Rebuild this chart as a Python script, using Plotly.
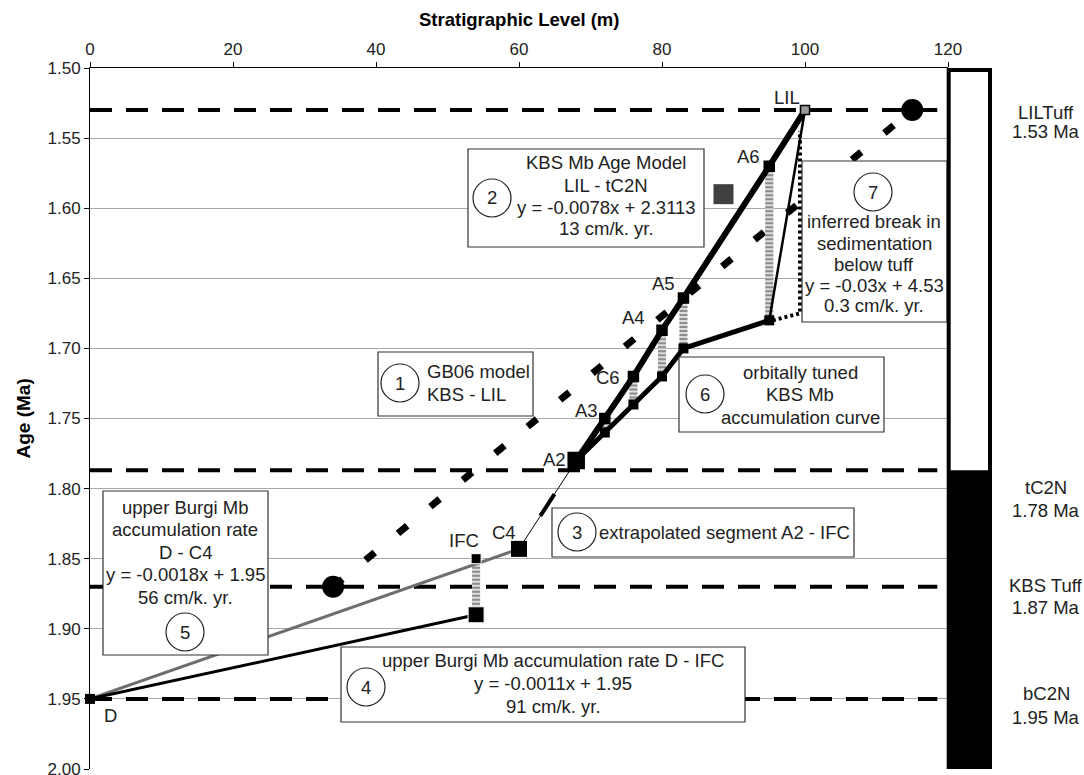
import plotly.graph_objects as go

# ---------------- data ----------------
ref_ages = [1.53, 1.787, 1.87, 1.95]
ref_names = ["LILTuff", "tC2N", "KBS Tuff", "bC2N"]
ref_age_labels = ["1.53 Ma", "1.78 Ma", "1.87 Ma", "1.95 Ma"]

upper_x = [68, 72, 76, 80, 83, 95, 100]
upper_y = [1.78, 1.75, 1.72, 1.687, 1.664, 1.57, 1.53]
upper_names = ["A2", "A3", "C6", "A4", "A5", "A6", "LIL"]

lower_x = [68, 72, 76, 80, 83, 95]
lower_y = [1.78, 1.76, 1.74, 1.72, 1.70, 1.68]

break_x = [95, 100]
break_y = [1.68, 1.53]
break_dot_x = [95.5, 99.3, 99.3]
break_dot_y = [1.68, 1.675, 1.545]

gb06_x = [34, 115]
gb06_y = [1.87, 1.53]

burgi_c4_x = [0, 60]
burgi_c4_y = [1.95, 1.843]
burgi_ifc_x = [0, 54]
burgi_ifc_y = [1.95, 1.89]
extrap_x = [68, 60]
extrap_y = [1.78, 1.843]

ifc_x = [54, 54]
ifc_y = [1.85, 1.89]
c4_x = [60]
c4_y = [1.843]
d_x = [0]
d_y = [1.95]
misc_x = [88.6]
misc_y = [1.59]

conn_x = [95, 83, 80, 76, 72, 54]
conn_top = [1.57, 1.664, 1.687, 1.72, 1.75, 1.85]
conn_bot = [1.68, 1.70, 1.72, 1.74, 1.76, 1.89]

chron_boundary = 1.787

# ---------------- layout constants ----------------
W, H = 1084, 775
ML, MR, MT, MB = 90, 136, 68, 6
PW, PH = W - ML - MR, H - MT - MB
FONT = "Liberation Sans, Arial, sans-serif"
TXT = "#222222"
FS = 18.5


def px(x):
    return (x - ML) / PW


def py(y):
    return 1 - (y - MT) / PH


fig = go.Figure()

# reference horizontal dashed lines
for a in ref_ages:
    fig.add_trace(go.Scatter(x=[0, 118.5], y=[a, a], mode="lines",
                             line=dict(color="black", width=4, dash="22px,14px"),
                             hoverinfo="skip"))

# GB06 model dashed line
fig.add_trace(go.Scatter(x=gb06_x, y=gb06_y, mode="lines+markers",
                         line=dict(color="black", width=7, dash="12px,30px"),
                         marker=dict(symbol="circle", size=22, color="black", opacity=1)))

# checkered connectors
for xc, yt, yb in zip(conn_x, conn_top, conn_bot):
    fig.add_trace(go.Scatter(x=[xc, xc], y=[yt, yb], mode="lines",
                             line=dict(color="#dcdcdc", width=8)))
    fig.add_trace(go.Scatter(x=[xc, xc], y=[yt, yb], mode="lines",
                             line=dict(color="#8c8c8c", width=8, dash="2px,2px")))

# Burgi lines
fig.add_trace(go.Scatter(x=burgi_c4_x, y=burgi_c4_y, mode="lines",
                         line=dict(color="#6e6e6e", width=3)))
fig.add_trace(go.Scatter(x=burgi_ifc_x, y=burgi_ifc_y, mode="lines",
                         line=dict(color="black", width=3)))
# extrapolated segment
fig.add_trace(go.Scatter(x=extrap_x, y=extrap_y, mode="lines",
                         line=dict(color="black", width=1)))
fig.add_trace(go.Scatter(x=extrap_x, y=extrap_y, mode="lines",
                         line=dict(color="black", width=4, dash="0px,40px,26px,300px")))

# lower and upper KBS curves
fig.add_trace(go.Scatter(x=lower_x, y=lower_y, mode="lines+markers",
                         line=dict(color="black", width=5),
                         marker=dict(symbol="square", size=10, color="black", opacity=1)))
fig.add_trace(go.Scatter(x=break_x, y=break_y, mode="lines",
                         line=dict(color="black", width=2.5)))
fig.add_trace(go.Scatter(x=break_dot_x, y=break_dot_y, mode="lines",
                         line=dict(color="black", width=4, dash="3px,3px")))
up_sizes = [16, 10, 10, 10, 10, 10, 9]
up_colors = ["black"] * 6 + ["#9a9a9a"]
fig.add_trace(go.Scatter(x=upper_x, y=upper_y, mode="lines+markers",
                         line=dict(color="black", width=6),
                         marker=dict(symbol="square", size=up_sizes, color=up_colors, opacity=1,
                                     line=dict(color="black", width=1.5))))

# other markers
fig.add_trace(go.Scatter(x=ifc_x, y=ifc_y, mode="markers",
                         marker=dict(symbol="square", size=[10, 16], color="black", opacity=1)))
fig.add_trace(go.Scatter(x=c4_x, y=c4_y, mode="markers",
                         marker=dict(symbol="square", size=16, color="black", opacity=1)))
fig.add_trace(go.Scatter(x=d_x, y=d_y, mode="markers", cliponaxis=False,
                         marker=dict(symbol="square", size=10, color="black", opacity=1)))
fig.add_trace(go.Scatter(x=misc_x, y=misc_y, mode="markers",
                         marker=dict(symbol="square", size=20, color="#404040", opacity=1)))

annotations = []
shapes = []

# point labels
up_shift = {"A2": (-20, 1), "A3": (-16, 8), "C6": (-23, -1), "A4": (-27, 13),
            "A5": (-18, 14), "A6": (-19, 10), "LIL": (-16, 13)}
for n, xv, yv in zip(upper_names, upper_x, upper_y):
    dx, dy = up_shift[n]
    annotations.append(dict(x=xv, y=yv, xref="x", yref="y", text=n, showarrow=False,
                            xshift=dx - 2, yshift=dy, xanchor="center",
                            font=dict(size=FS, color=TXT, family=FONT)))
for n, xv, yv, dx, dy in [("C4", c4_x[0], c4_y[0], -15, 16),
                          ("IFC", ifc_x[0], ifc_y[0], -12, 18),
                          ("D", d_x[0], d_y[0], 20, -17)]:
    annotations.append(dict(x=xv, y=yv, xref="x", yref="y", text=n, showarrow=False,
                            xshift=dx, yshift=dy,
                            font=dict(size=FS, color=TXT, family=FONT)))

# text boxes (pixel layout)
boxes = [
    dict(r=(378, 533, 352, 416), c=(400, 383, "1"),
         lines=[("GB06 model", 425, 371, "left"), ("KBS - LIL", 425, 395, "left")]),
    dict(r=(468, 704, 149, 247), c=(492, 198, "2"),
         lines=[("KBS Mb Age Model", 606, 163, "center"), ("LIL - tC2N", 606, 185, "center"),
                ("y = -0.0078x + 2.3113", 606, 207, "center"), ("13 cm/k. yr.", 606, 228, "center")]),
    dict(r=(552, 854, 508, 557), c=(577, 532, "3"),
         lines=[("extrapolated segment A2 - IFC", 597, 532, "left")]),
    dict(r=(341, 745, 647, 722), c=(366, 687, "4"),
         lines=[("upper Burgi Mb accumulation rate D - IFC", 553, 660, "center"),
                ("y = -0.0011x + 1.95", 553, 683, "center"), ("91 cm/k. yr.", 553, 706, "center")]),
    dict(r=(103, 268, 491, 655), c=(185, 632, "5"),
         lines=[("upper Burgi Mb", 185, 508, "center"), ("accumulation rate", 185, 529, "center"),
                ("D - C4", 185, 552, "center"), ("y = -0.0018x + 1.95", 185, 574, "center"),
                ("56 cm/k. yr.", 185, 597, "center")]),
    dict(r=(679, 884, 357, 432), c=(705, 394, "6"),
         lines=[("orbitally tuned", 800, 372, "center"), ("KBS Mb", 800, 394, "center"),
                ("accumulation curve", 800, 417, "center")]),
    dict(r=(802, 947, 161, 322), c=(873, 192, "7"),
         lines=[("inferred break in", 874, 222, "center"), ("sedimentation", 874, 243, "center"),
                ("below tuff", 874, 264, "center"), ("y = -0.03x + 4.53", 874, 285, "center"),
                ("0.3 cm/k. yr.", 874, 306, "center")]),
]
R = 19
for b in boxes:
    x0, x1, y0, y1 = b["r"]
    shapes.append(dict(type="rect", xref="paper", yref="paper", x0=px(x0), x1=px(x1),
                       y0=py(y1), y1=py(y0), fillcolor="white",
                       line=dict(color="#333333", width=1.2), layer="above"))
    cx, cy, num = b["c"]
    shapes.append(dict(type="circle", xref="paper", yref="paper", x0=px(cx - R), x1=px(cx + R),
                       y0=py(cy + R), y1=py(cy - R), fillcolor="white",
                       line=dict(color="#222222", width=1.2), layer="above"))
    annotations.append(dict(x=px(cx), y=py(cy), xref="paper", yref="paper", text=num,
                            showarrow=False, xanchor="center", yanchor="middle",
                            font=dict(size=FS, color=TXT, family=FONT)))
    for t, tx, ty, al in b["lines"]:
        annotations.append(dict(x=px(tx), y=py(ty), xref="paper", yref="paper", text=t,
                                showarrow=False, xanchor=al, yanchor="middle",
                                font=dict(size=FS, color=TXT, family=FONT)))

# polarity bar
shapes.append(dict(type="rect", xref="paper", yref="y", x0=px(948.7), x1=px(990),
                   y0=1.5, y1=chron_boundary, fillcolor="white", line=dict(width=0), layer="above"))
shapes.append(dict(type="rect", xref="paper", yref="y", x0=px(948.7), x1=px(990),
                   y0=chron_boundary, y1=2.0, fillcolor="black", line=dict(width=0), layer="above"))
shapes.append(dict(type="rect", xref="paper", yref="y", x0=px(948.7), x1=px(990),
                   y0=1.5015, y1=2.0, fillcolor="rgba(0,0,0,0)",
                   line=dict(color="black", width=4), layer="above"))

# right-hand labels (two lines each, pixel offsets below the level line)
label_offsets = [(2, 21), (17, 40), (-1, 21), (-5, 19)]
for n, a, al, (o1, o2) in zip(ref_names, ref_ages, ref_age_labels, label_offsets):
    for t, o in ((n, o1), (al, o2)):
        annotations.append(dict(x=px(1046), y=a, xref="paper", yref="y",
                                text=t, showarrow=False, yshift=-o,
                                xanchor="center", yanchor="middle",
                                font=dict(size=FS, color=TXT, family=FONT)))

# axis titles
annotations.append(dict(x=0.5, y=py(20), xref="paper", yref="paper",
                        text="<b>Stratigraphic Level (m)</b>", showarrow=False,
                        xanchor="center", yanchor="middle",
                        font=dict(size=18.5, color="black", family=FONT)))
annotations.append(dict(x=px(23), y=0.5, xref="paper", yref="paper",
                        text="<b>Age (Ma)</b>", showarrow=False, textangle=-90,
                        xanchor="center", yanchor="middle",
                        font=dict(size=19, color="black", family=FONT)))

fig.update_layout(
    width=W, height=H, margin=dict(l=ML, r=MR, t=MT, b=MB, autoexpand=False),
    plot_bgcolor="white", paper_bgcolor="white", showlegend=False,
    font=dict(family=FONT, color=TXT),
    annotations=annotations, shapes=shapes,
    xaxis=dict(range=[0, 120], side="top", dtick=20, showline=True, linecolor="black",
               linewidth=1, ticks="outside", ticklen=5, tickcolor="black", showgrid=False,
               zeroline=False, automargin=False,
               tickfont=dict(size=17, color=TXT, family=FONT)),
    yaxis=dict(range=[2.0, 1.5], dtick=0.05, tickformat=".2f", showline=True,
               linecolor="black", linewidth=1, ticks="outside", ticklen=5, tickcolor="black",
               showgrid=True, gridcolor="#a8a8a8", gridwidth=1, zeroline=False,
               ticklabeloverflow="allow", automargin=False,
               tickfont=dict(size=17, color=TXT, family=FONT)),
)

fig.write_html("out.html", config={"displayModeBar": False},
               post_script="document.body.style.margin='0px';"
                           "document.body.style.overflow='hidden';")
